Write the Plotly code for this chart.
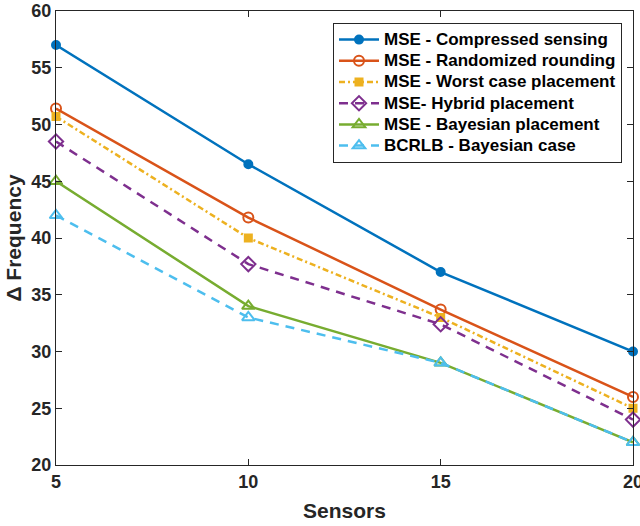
import plotly.graph_objects as go

sensors = [5, 10, 15, 20]
mse_cs = [57, 46.5, 37, 30]
mse_rr = [51.4, 41.8, 33.7, 26]
mse_wc = [50.7, 40, 33, 25]
mse_hy = [48.5, 37.7, 32.4, 24]
mse_bp = [45, 34, 29, 22]
bcrlb = [42, 33, 29, 22]

names = ["MSE - Compressed sensing", "MSE - Randomized rounding",
         "MSE - Worst case placement", "MSE- Hybrid placement",
         "MSE - Bayesian placement", "BCRLB - Bayesian case"]
colors = ["#0072BD", "#D95319", "#EDB120", "#7E2F8E", "#77AC30", "#4DBEEE"]
dashes = ["solid", "solid", "6px,3px,2px,3px", "9px,7px", "solid", "9px,7px"]
symbols = ["circle", "circle-open", "square", "diamond-open", "triangle-up-open", "triangle-up-open"]
msizes = [8, 10, 7, 11, 11, 11]
series = [mse_cs, mse_rr, mse_wc, mse_hy, mse_bp, bcrlb]

fig = go.Figure()
for n, c, d, s, ms, y in zip(names, colors, dashes, symbols, msizes, series):
    fig.add_trace(go.Scatter(
        x=sensors, y=y, name='<span style="font-size:17px">' + n + '</span>',
        mode="lines+markers", cliponaxis=False,
        line=dict(color=c, width=2.5, dash=d),
        marker=dict(symbol=s, size=ms, color=c, line=dict(color=c, width=2)),
    ))

axis_common = dict(
    showgrid=False, zeroline=False, showline=True, linecolor="#262626", linewidth=1,
    mirror="ticks", ticks="inside", ticklen=6, tickcolor="#262626", automargin=False,
    ticklabeloverflow="allow",
    tickfont=dict(family="Liberation Sans", size=18, color="#262626", weight="bold"),
)

fig.update_layout(
    width=640, height=526,
    margin=dict(l=56, r=7, t=11, b=61),
    plot_bgcolor="white", paper_bgcolor="white",
    font=dict(family="Liberation Sans", color="#262626"),
    xaxis=dict(range=[5, 20], tickvals=[5, 10, 15, 20],
               title=dict(text="<b>Sensors</b>", font=dict(size=21), standoff=12),
               **axis_common),
    yaxis=dict(range=[20, 60], tickvals=list(range(20, 61, 5)),
               title=dict(text="<b>Δ Frequency</b>", font=dict(size=21), standoff=4),
               **axis_common),
    legend=dict(x=(333 - 56) / 577, y=(465 - 23) / 454, xanchor="left", yanchor="top",
                bgcolor="white", bordercolor="#262626", borderwidth=1,
                font=dict(family="Liberation Sans", size=14, color="black", weight="bold"),
                tracegroupgap=0, itemwidth=40),
    showlegend=True,
)

fig.write_html("out.html")
